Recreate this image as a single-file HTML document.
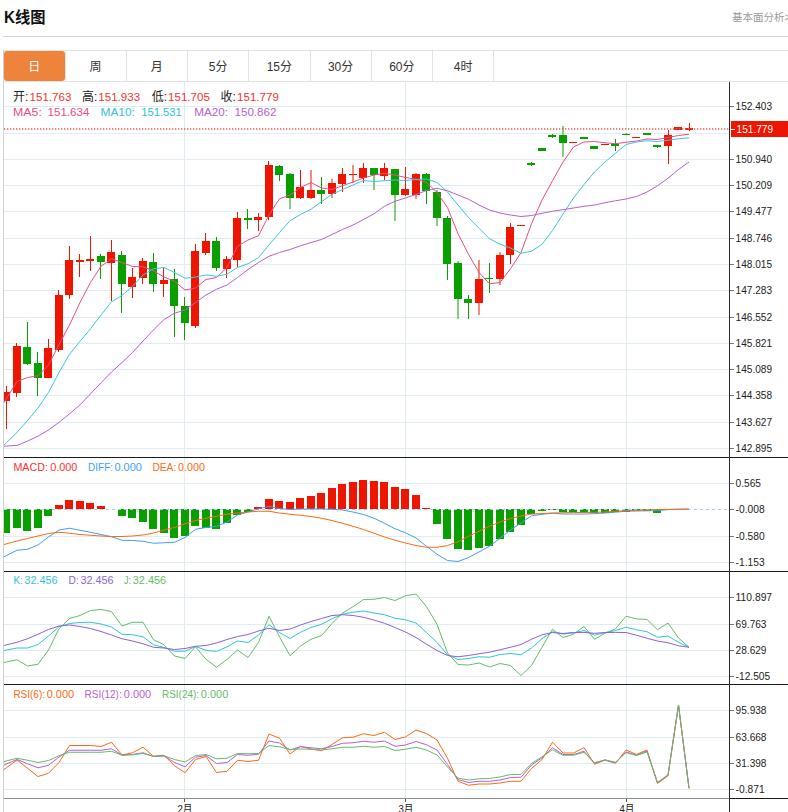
<!DOCTYPE html>
<html lang="zh-CN"><head><meta charset="utf-8"><title>K线图</title>
<style>
html,body{margin:0;padding:0;background:#fff;}
body{width:788px;height:812px;overflow:hidden;position:relative;font-family:"Liberation Sans","Noto Sans CJK SC",sans-serif;}
svg{position:absolute;left:0;top:0;display:block;}
svg text{font-family:"Liberation Sans","Noto Sans CJK SC",sans-serif;}
</style></head><body>
<svg width="788" height="812" viewBox="0 0 788 812">
<rect x="0" y="0" width="788" height="812" fill="#ffffff"/>
<text x="4" y="23" font-size="16" font-weight="bold" fill="#111" textLength="41.5" lengthAdjust="spacingAndGlyphs">K线图</text>
<text x="732" y="21.3" font-size="10.5" fill="#999">基本面分析&gt;</text>
<rect x="3" y="36" width="785" height="1" fill="#d2d2d2"/>
<rect x="3" y="50" width="785" height="1" fill="#e2e2e2"/>
<rect x="3" y="81" width="785" height="1" fill="#e2e2e2"/>
<rect x="4" y="51" width="61" height="30" rx="3" ry="3" fill="#ee843c"/>
<text x="34.38" y="70.5" font-size="12" fill="#fff" text-anchor="middle">日</text>
<rect x="65" y="51" width="1" height="30" fill="#e2e2e2"/>
<text x="95.62" y="70.5" font-size="12" fill="#333" text-anchor="middle">周</text>
<rect x="126" y="51" width="1" height="30" fill="#e2e2e2"/>
<text x="156.88" y="70.5" font-size="12" fill="#333" text-anchor="middle">月</text>
<rect x="187" y="51" width="1" height="30" fill="#e2e2e2"/>
<text x="218.12" y="70.5" font-size="12" fill="#333" text-anchor="middle">5分</text>
<rect x="248" y="51" width="1" height="30" fill="#e2e2e2"/>
<text x="279.38" y="70.5" font-size="12" fill="#333" text-anchor="middle">15分</text>
<rect x="310" y="51" width="1" height="30" fill="#e2e2e2"/>
<text x="340.62" y="70.5" font-size="12" fill="#333" text-anchor="middle">30分</text>
<rect x="371" y="51" width="1" height="30" fill="#e2e2e2"/>
<text x="401.88" y="70.5" font-size="12" fill="#333" text-anchor="middle">60分</text>
<rect x="432" y="51" width="1" height="30" fill="#e2e2e2"/>
<text x="463.12" y="70.5" font-size="12" fill="#333" text-anchor="middle">4时</text>
<rect x="493" y="51" width="1" height="30" fill="#e2e2e2"/>
<rect x="3" y="50" width="1" height="762" fill="#d0d0d0"/>
<rect x="4" y="106" width="725" height="1" fill="#e1ecf2"/>
<rect x="4" y="133" width="725" height="1" fill="#e1ecf2"/>
<rect x="4" y="159" width="725" height="1" fill="#e1ecf2"/>
<rect x="4" y="185" width="725" height="1" fill="#e1ecf2"/>
<rect x="4" y="211" width="725" height="1" fill="#e1ecf2"/>
<rect x="4" y="238" width="725" height="1" fill="#e1ecf2"/>
<rect x="4" y="264" width="725" height="1" fill="#e1ecf2"/>
<rect x="4" y="290" width="725" height="1" fill="#e1ecf2"/>
<rect x="4" y="317" width="725" height="1" fill="#e1ecf2"/>
<rect x="4" y="343" width="725" height="1" fill="#e1ecf2"/>
<rect x="4" y="369" width="725" height="1" fill="#e1ecf2"/>
<rect x="4" y="395" width="725" height="1" fill="#e1ecf2"/>
<rect x="4" y="422" width="725" height="1" fill="#e1ecf2"/>
<rect x="4" y="448" width="725" height="1" fill="#e1ecf2"/>
<rect x="4" y="483" width="725" height="1" fill="#e1ecf2"/>
<rect x="4" y="536" width="725" height="1" fill="#e1ecf2"/>
<rect x="4" y="562" width="725" height="1" fill="#e1ecf2"/>
<rect x="4" y="597" width="725" height="1" fill="#e1ecf2"/>
<rect x="4" y="624" width="725" height="1" fill="#e1ecf2"/>
<rect x="4" y="650" width="725" height="1" fill="#e1ecf2"/>
<rect x="4" y="676" width="725" height="1" fill="#e1ecf2"/>
<rect x="4" y="710" width="725" height="1" fill="#e1ecf2"/>
<rect x="4" y="737" width="725" height="1" fill="#e1ecf2"/>
<rect x="4" y="763" width="725" height="1" fill="#e1ecf2"/>
<rect x="4" y="789" width="725" height="1" fill="#e1ecf2"/>
<rect x="184" y="82" width="1" height="716" fill="#e1ecf2"/>
<rect x="405" y="82" width="1" height="716" fill="#e1ecf2"/>
<rect x="626" y="82" width="1" height="716" fill="#e1ecf2"/>
<g>
<rect x="6" y="386" width="1" height="43" fill="#ee1600"/>
<rect x="4" y="392" width="6" height="9" fill="#ee1600"/>
<rect x="16" y="343" width="1" height="54" fill="#ee1600"/>
<rect x="13" y="346" width="8" height="47" fill="#ee1600"/>
<rect x="27" y="322" width="1" height="43" fill="#0a9f00"/>
<rect x="23" y="347" width="8" height="17" fill="#0a9f00"/>
<rect x="37" y="352" width="1" height="44" fill="#0a9f00"/>
<rect x="34" y="363" width="8" height="15" fill="#0a9f00"/>
<rect x="48" y="339" width="1" height="39" fill="#ee1600"/>
<rect x="44" y="348" width="8" height="30" fill="#ee1600"/>
<rect x="58" y="290" width="1" height="62" fill="#ee1600"/>
<rect x="55" y="295" width="8" height="55" fill="#ee1600"/>
<rect x="69" y="246" width="1" height="53" fill="#ee1600"/>
<rect x="65" y="260" width="8" height="35" fill="#ee1600"/>
<rect x="79" y="254" width="1" height="23" fill="#ee1600"/>
<rect x="76" y="260" width="8" height="2" fill="#ee1600"/>
<rect x="90" y="236" width="1" height="35" fill="#ee1600"/>
<rect x="86" y="259" width="8" height="2" fill="#ee1600"/>
<rect x="100" y="254" width="1" height="25" fill="#0a9f00"/>
<rect x="97" y="256" width="8" height="6" fill="#0a9f00"/>
<rect x="111" y="240" width="1" height="61" fill="#ee1600"/>
<rect x="107" y="252" width="8" height="11" fill="#ee1600"/>
<rect x="121" y="251" width="1" height="62" fill="#0a9f00"/>
<rect x="118" y="255" width="8" height="29" fill="#0a9f00"/>
<rect x="132" y="268" width="1" height="30" fill="#ee1600"/>
<rect x="128" y="277" width="8" height="10" fill="#ee1600"/>
<rect x="142" y="258" width="1" height="26" fill="#ee1600"/>
<rect x="139" y="261" width="8" height="17" fill="#ee1600"/>
<rect x="153" y="253" width="1" height="39" fill="#0a9f00"/>
<rect x="149" y="262" width="8" height="22" fill="#0a9f00"/>
<rect x="163" y="268" width="1" height="29" fill="#ee1600"/>
<rect x="160" y="280" width="8" height="4" fill="#ee1600"/>
<rect x="174" y="269" width="1" height="68" fill="#0a9f00"/>
<rect x="170" y="279" width="8" height="27" fill="#0a9f00"/>
<rect x="184" y="297" width="1" height="43" fill="#0a9f00"/>
<rect x="181" y="306" width="8" height="17" fill="#0a9f00"/>
<rect x="195" y="244" width="1" height="84" fill="#ee1600"/>
<rect x="191" y="251" width="8" height="75" fill="#ee1600"/>
<rect x="205" y="233" width="1" height="22" fill="#ee1600"/>
<rect x="202" y="241" width="8" height="12" fill="#ee1600"/>
<rect x="216" y="237" width="1" height="34" fill="#0a9f00"/>
<rect x="212" y="241" width="8" height="27" fill="#0a9f00"/>
<rect x="226" y="256" width="1" height="22" fill="#ee1600"/>
<rect x="223" y="259" width="8" height="10" fill="#ee1600"/>
<rect x="237" y="212" width="1" height="55" fill="#ee1600"/>
<rect x="233" y="218" width="8" height="42" fill="#ee1600"/>
<rect x="247" y="209" width="1" height="20" fill="#0a9f00"/>
<rect x="244" y="218" width="8" height="2" fill="#0a9f00"/>
<rect x="258" y="213" width="1" height="18" fill="#ee1600"/>
<rect x="254" y="217" width="8" height="3" fill="#ee1600"/>
<rect x="268" y="161" width="1" height="59" fill="#ee1600"/>
<rect x="265" y="165" width="8" height="52" fill="#ee1600"/>
<rect x="279" y="165" width="1" height="16" fill="#0a9f00"/>
<rect x="275" y="166" width="8" height="9" fill="#0a9f00"/>
<rect x="289" y="173" width="2" height="36" fill="#0a9f00" fill-opacity="0.5"/>
<rect x="286" y="174" width="8" height="24" fill="#0a9f00"/>
<rect x="300" y="170" width="1" height="29" fill="#ee1600"/>
<rect x="296" y="187" width="8" height="11" fill="#ee1600"/>
<rect x="310" y="170" width="2" height="29" fill="#ee1600" fill-opacity="0.5"/>
<rect x="307" y="190" width="8" height="8" fill="#ee1600"/>
<rect x="321" y="177" width="1" height="27" fill="#0a9f00"/>
<rect x="317" y="190" width="8" height="4" fill="#0a9f00"/>
<rect x="331" y="179" width="2" height="19" fill="#ee1600" fill-opacity="0.5"/>
<rect x="328" y="183" width="8" height="11" fill="#ee1600"/>
<rect x="342" y="168" width="1" height="24" fill="#ee1600"/>
<rect x="338" y="174" width="8" height="10" fill="#ee1600"/>
<rect x="352" y="165" width="2" height="18" fill="#ee1600" fill-opacity="0.5"/>
<rect x="349" y="174" width="8" height="1" fill="#ee1600"/>
<rect x="363" y="163" width="1" height="20" fill="#ee1600"/>
<rect x="359" y="168" width="8" height="10" fill="#ee1600"/>
<rect x="373" y="168" width="2" height="22" fill="#0a9f00" fill-opacity="0.5"/>
<rect x="370" y="168" width="8" height="7" fill="#0a9f00"/>
<rect x="384" y="163" width="1" height="17" fill="#ee1600"/>
<rect x="380" y="168" width="8" height="8" fill="#ee1600"/>
<rect x="394" y="169" width="2" height="52" fill="#0a9f00" fill-opacity="0.5"/>
<rect x="391" y="169" width="8" height="26" fill="#0a9f00"/>
<rect x="405" y="167" width="1" height="29" fill="#ee1600"/>
<rect x="401" y="189" width="8" height="6" fill="#ee1600"/>
<rect x="415" y="173" width="2" height="26" fill="#ee1600" fill-opacity="0.5"/>
<rect x="412" y="174" width="8" height="21" fill="#ee1600"/>
<rect x="426" y="173" width="1" height="31" fill="#0a9f00"/>
<rect x="422" y="174" width="8" height="17" fill="#0a9f00"/>
<rect x="436" y="190" width="2" height="36" fill="#0a9f00" fill-opacity="0.5"/>
<rect x="433" y="192" width="8" height="26" fill="#0a9f00"/>
<rect x="447" y="216" width="1" height="64" fill="#0a9f00"/>
<rect x="443" y="218" width="8" height="46" fill="#0a9f00"/>
<rect x="457" y="261" width="2" height="58" fill="#0a9f00" fill-opacity="0.5"/>
<rect x="454" y="263" width="8" height="36" fill="#0a9f00"/>
<rect x="468" y="295" width="1" height="24" fill="#0a9f00"/>
<rect x="464" y="299" width="8" height="4" fill="#0a9f00"/>
<rect x="478" y="260" width="2" height="55" fill="#ee1600" fill-opacity="0.5"/>
<rect x="475" y="279" width="8" height="24" fill="#ee1600"/>
<rect x="489" y="263" width="1" height="30" fill="#0a9f00"/>
<rect x="485" y="278" width="8" height="1" fill="#0a9f00"/>
<rect x="499" y="252" width="2" height="33" fill="#ee1600" fill-opacity="0.5"/>
<rect x="496" y="255" width="8" height="24" fill="#ee1600"/>
<rect x="510" y="223" width="1" height="41" fill="#ee1600"/>
<rect x="506" y="227" width="8" height="28" fill="#ee1600"/>
<rect x="517" y="225" width="8" height="1" fill="#ee1600"/>
<rect x="531" y="162" width="1" height="4" fill="#0a9f00"/>
<rect x="527" y="163" width="8" height="2" fill="#0a9f00"/>
<rect x="538" y="148" width="8" height="3" fill="#0a9f00"/>
<rect x="552" y="134" width="1" height="4" fill="#0a9f00"/>
<rect x="548" y="135" width="8" height="2" fill="#0a9f00"/>
<rect x="562" y="126" width="2" height="31" fill="#0a9f00" fill-opacity="0.5"/>
<rect x="559" y="135" width="8" height="8" fill="#0a9f00"/>
<rect x="569" y="142" width="8" height="1" fill="#ee1600"/>
<rect x="580" y="137" width="8" height="2" fill="#0a9f00"/>
<rect x="590" y="146" width="8" height="3" fill="#0a9f00"/>
<rect x="601" y="144" width="8" height="1" fill="#ee1600"/>
<rect x="615" y="139" width="1" height="12" fill="#0a9f00"/>
<rect x="611" y="144" width="8" height="2" fill="#0a9f00"/>
<rect x="625" y="133" width="2" height="2" fill="#0a9f00" fill-opacity="0.5"/>
<rect x="622" y="134" width="8" height="1" fill="#0a9f00"/>
<rect x="632" y="137" width="8" height="1" fill="#ee1600"/>
<rect x="643" y="133" width="8" height="2" fill="#0a9f00"/>
<rect x="657" y="145" width="1" height="3" fill="#0a9f00"/>
<rect x="653" y="145" width="8" height="2" fill="#0a9f00"/>
<rect x="668" y="130" width="1" height="34" fill="#ee1600"/>
<rect x="664" y="135" width="8" height="11" fill="#ee1600"/>
<rect x="674" y="127" width="8" height="3" fill="#ee1600"/>
<rect x="689" y="123" width="1" height="8" fill="#ee1600"/>
<rect x="685" y="128" width="8" height="2" fill="#ee1600"/>
<polyline fill="none" stroke="#ea4c86" stroke-width="1" stroke-linejoin="round" points="4,402.55 6.5,398.5 17,381.5 27.5,377.5 38,375.75 48.5,365 59,344.5 69.5,325 80,302.5 90.5,282.5 101,266.25 111.5,258.75 122,262.5 132.5,266.5 143,266.75 153.5,270.75 164,277 174.5,281.25 185,290 195.5,288 206,279.5 216.5,277.5 227,267.5 237.5,246.25 248,240 258.5,235.75 269,215 279.5,198.75 290,195 300.5,187.5 311,182.5 321.5,188 332,189.5 342.5,185.75 353,182 363.5,178 374,175 384.5,173.25 395,175 405.5,177.5 416,179.25 426.5,182.5 437,192.5 447.5,207.5 458,233.75 468.5,254.25 479,272.5 489.5,283.75 500,282.5 510.5,268.75 521,252.5 531.5,223.75 542,200 552.5,180.75 563,162 573.5,147 584,142 594.5,141.5 605,142.75 615.5,143.75 626,142.25 636.5,141 647,139 657.5,139.5 668,137.5 678.5,135.5 689,134.2"/>
<polyline fill="none" stroke="#3cc6de" stroke-width="1" stroke-linejoin="round" points="4,445 6.5,442.6 17,432.5 27.5,420.5 38,408 48.5,392.5 59,372.5 69.5,354.25 80,341.25 90.5,328.75 101,315 111.5,301.75 122,295.5 132.5,286.25 143,275 153.5,268.75 164,267.5 174.5,272.5 185,278.25 195.5,277 206,275 216.5,276.25 227,274.25 237.5,267.5 248,263.75 258.5,257.5 269,245 279.5,232.5 290,220.75 300.5,214.5 311,209.25 321.5,201.75 332,194.25 342.5,189.5 353,185 363.5,180.5 374,181.5 384.5,180.75 395,180 405.5,180.5 416,179.5 426.5,179 437,182.5 447.5,192 458,205 468.5,217.5 479,228.25 489.5,238.75 500,244.25 510.5,248 521,253.25 531.5,251.25 542,244.25 552.5,230.5 563,214 573.5,198 584,184.5 594.5,172 605,162 615.5,153.25 626,144.5 636.5,142 647,140.75 657.5,141.5 668,140.25 678.5,138.75 689,137.8"/>
<polyline fill="none" stroke="#b65fd0" stroke-width="1" stroke-linejoin="round" points="4,446.2 6.5,446.05 17,445.4 27.5,441.1 38,436.2 48.5,430 59,422.3 69.5,413.8 80,404.9 90.5,393.8 101,382.8 111.5,372 122,362.5 132.5,352.5 143,341 153.5,330 164,319.5 174.5,313.25 185,310 195.5,302.5 206,295 216.5,289.25 227,285 237.5,277.5 248,269.5 258.5,262.5 269,256.25 279.5,252.5 290,249.5 300.5,245.75 311,242.5 321.5,239.5 332,234.5 342.5,229.5 353,225 363.5,219.5 374,213.75 384.5,206.25 395,201.25 405.5,198 416,194.5 426.5,190.5 437,188.25 447.5,190.75 458,195 468.5,199.25 479,205 489.5,210 500,213 510.5,215 521,216.5 531.5,215.5 542,213.25 552.5,211.25 563,209.7 573.5,208 584,206.25 594.5,205 605,202.75 615.5,200.75 626,199 636.5,196.5 647,192 657.5,185.75 668,178.25 678.5,169.5 689,162"/>
</g>
<line x1="4" y1="128.9" x2="729" y2="128.9" stroke="#f4554a" stroke-width="1.5" stroke-dasharray="1.3,1.7"/>
<rect x="731" y="121" width="57" height="16" fill="#ee1600"/>
<g>
<rect x="4" y="509" width="6" height="24" fill="#0a9f00"/>
<rect x="13" y="509" width="8" height="19" fill="#0a9f00"/>
<rect x="23" y="509" width="8" height="22" fill="#0a9f00"/>
<rect x="34" y="509" width="8" height="19" fill="#0a9f00"/>
<rect x="44" y="509" width="8" height="7" fill="#0a9f00"/>
<rect x="55" y="505" width="8" height="4" fill="#ee1600"/>
<rect x="65" y="500" width="8" height="9" fill="#ee1600"/>
<rect x="76" y="501" width="8" height="8" fill="#ee1600"/>
<rect x="86" y="503" width="8" height="6" fill="#ee1600"/>
<rect x="97" y="506" width="8" height="3" fill="#ee1600"/>
<rect x="118" y="509" width="8" height="7" fill="#0a9f00"/>
<rect x="128" y="509" width="8" height="9" fill="#0a9f00"/>
<rect x="139" y="509" width="8" height="13" fill="#0a9f00"/>
<rect x="149" y="509" width="8" height="20" fill="#0a9f00"/>
<rect x="160" y="509" width="8" height="24" fill="#0a9f00"/>
<rect x="170" y="509" width="8" height="29" fill="#0a9f00"/>
<rect x="181" y="509" width="8" height="27" fill="#0a9f00"/>
<rect x="191" y="509" width="8" height="17" fill="#0a9f00"/>
<rect x="202" y="509" width="8" height="19" fill="#0a9f00"/>
<rect x="212" y="509" width="8" height="20" fill="#0a9f00"/>
<rect x="223" y="509" width="8" height="14" fill="#0a9f00"/>
<rect x="233" y="509" width="8" height="6" fill="#0a9f00"/>
<rect x="244" y="509" width="8" height="3" fill="#0a9f00"/>
<rect x="254" y="507" width="8" height="2" fill="#ee1600"/>
<rect x="265" y="499" width="8" height="10" fill="#ee1600"/>
<rect x="275" y="501" width="8" height="8" fill="#ee1600"/>
<rect x="286" y="502" width="8" height="7" fill="#ee1600"/>
<rect x="296" y="498" width="8" height="11" fill="#ee1600"/>
<rect x="307" y="496" width="8" height="13" fill="#ee1600"/>
<rect x="317" y="493" width="8" height="16" fill="#ee1600"/>
<rect x="328" y="488" width="8" height="21" fill="#ee1600"/>
<rect x="338" y="484" width="8" height="25" fill="#ee1600"/>
<rect x="349" y="482" width="8" height="27" fill="#ee1600"/>
<rect x="359" y="480" width="8" height="29" fill="#ee1600"/>
<rect x="370" y="481" width="8" height="28" fill="#ee1600"/>
<rect x="380" y="482" width="8" height="27" fill="#ee1600"/>
<rect x="391" y="487" width="8" height="22" fill="#ee1600"/>
<rect x="401" y="489" width="8" height="20" fill="#ee1600"/>
<rect x="412" y="495" width="8" height="14" fill="#ee1600"/>
<rect x="422" y="508" width="8" height="1" fill="#ee1600"/>
<rect x="433" y="509" width="8" height="15" fill="#0a9f00"/>
<rect x="443" y="509" width="8" height="30" fill="#0a9f00"/>
<rect x="454" y="509" width="8" height="40" fill="#0a9f00"/>
<rect x="464" y="509" width="8" height="41" fill="#0a9f00"/>
<rect x="475" y="509" width="8" height="39" fill="#0a9f00"/>
<rect x="485" y="509" width="8" height="37" fill="#0a9f00"/>
<rect x="496" y="509" width="8" height="30" fill="#0a9f00"/>
<rect x="506" y="509" width="8" height="23" fill="#0a9f00"/>
<rect x="517" y="509" width="8" height="16" fill="#0a9f00"/>
<rect x="527" y="509" width="8" height="5" fill="#0a9f00"/>
<rect x="538" y="509" width="8" height="2" fill="#0a9f00"/>
<rect x="548" y="509" width="8" height="1" fill="#0a9f00"/>
<rect x="559" y="509" width="8" height="3" fill="#0a9f00"/>
<rect x="569" y="509" width="8" height="3" fill="#0a9f00"/>
<rect x="580" y="509" width="8" height="3" fill="#0a9f00"/>
<rect x="590" y="509" width="8" height="4" fill="#0a9f00"/>
<rect x="601" y="509" width="8" height="4" fill="#0a9f00"/>
<rect x="611" y="509" width="8" height="3" fill="#0a9f00"/>
<rect x="622" y="509" width="8" height="3" fill="#0a9f00"/>
<rect x="632" y="509" width="8" height="2" fill="#0a9f00"/>
<rect x="643" y="509" width="8" height="2" fill="#0a9f00"/>
<rect x="653" y="509" width="8" height="4" fill="#0a9f00"/>
<line x1="4" y1="509.5" x2="729" y2="509.5" stroke="#9fd4ec" stroke-width="1" stroke-dasharray="3,3"/>
<polyline fill="none" stroke="#3d9ff0" stroke-width="1" stroke-linejoin="round" points="4,556.75 6.5,555.5 17,550.25 27.5,549.25 38,545 48.5,537 59,530 69.5,528.25 80,530.25 90.5,532.25 101,534.5 111.5,536.75 122,540.25 132.5,540.5 143,541.25 153.5,543.25 164,542.75 174.5,542.25 185,537.5 195.5,529.25 206,527.5 216.5,526.25 227,522 237.5,515 248,512 258.5,508.75 269,506.5 279.5,508.5 290,509.5 300.5,509 311,509 321.5,509 332,509.25 342.5,510 353,512 363.5,514.5 374,518.25 384.5,523.25 395,528.75 405.5,532.75 416,538 426.5,546.25 437,554.25 447.5,560.5 458,561.5 468.5,557.5 479,552 489.5,546.25 500,538.25 510.5,530 521,523 531.5,515.75 542,514.25 552.5,513.25 563,514 573.5,514 584,514 594.5,513.6 605,513 615.5,512.2 626,511.2 636.5,511 647,510.8 657.5,510.6 668,509.6 678.5,509.3 689,509.2"/>
<polyline fill="none" stroke="#fa6a14" stroke-width="1" stroke-linejoin="round" points="4,544.5 6.5,543.83 17,541 27.5,538.5 38,536 48.5,533.5 59,532.25 69.5,533.25 80,534.5 90.5,535.25 101,536 111.5,536.5 122,536.5 132.5,536 143,535 153.5,533 164,530 174.5,527.5 185,523.75 195.5,520.5 206,518.25 216.5,516.25 227,514.25 237.5,513 248,512 258.5,511.25 269,511.25 279.5,513 290,514.25 300.5,515.25 311,516.5 321.5,518.25 332,520.5 342.5,523.25 353,526.25 363.5,529.5 374,533.25 384.5,537 395,540.25 405.5,543 416,545.5 426.5,547.25 437,547.25 447.5,545.5 458,541.75 468.5,536.25 479,531.25 489.5,526.25 500,522 510.5,518.5 521,516 531.5,514 542,513.5 552.5,513 563,512.75 573.5,512.5 584,512.5 594.5,512.3 605,512 615.5,511.3 626,510.6 636.5,510.3 647,510 657.5,509.6 668,509.4 678.5,509.2 689,509.1"/>
</g>
<g>
<polyline fill="none" stroke="#66bb66" stroke-width="1" stroke-linejoin="round" points="4,662.5 6.5,661.97 17,659.75 27.5,666 38,664.25 48.5,650 59,628.75 69.5,618.5 80,615.5 90.5,610.5 101,609.5 111.5,611.5 122,626 132.5,622.25 143,622.25 153.5,639.75 164,644.75 174.5,656 185,658.5 195.5,646.75 206,659.25 216.5,667.25 227,659.5 237.5,650 248,657.5 258.5,642.5 269,616.25 279.5,636.75 290,655.75 300.5,646 311,639.25 321.5,635.5 332,623.5 342.5,613 353,606.75 363.5,599.5 374,599.25 384.5,597.5 395,600.5 405.5,595.75 416,594 426.5,606.75 437,624.25 447.5,653 458,664.5 468.5,665 479,663 489.5,667 500,663.5 510.5,665.5 521,675.5 531.5,665.5 542,647.25 552.5,629.25 563,637.5 573.5,634.25 584,626.4 594.5,639.3 605,633.2 615.5,628.9 626,616.2 636.5,618.9 647,619.5 657.5,629.75 668,623 678.5,638 689,647.25"/>
<polyline fill="none" stroke="#2fc3dc" stroke-width="1" stroke-linejoin="round" points="4,650.5 6.5,650.02 17,648 27.5,648 38,644.5 48.5,636 59,626.75 69.5,623.5 80,622.5 90.5,622.25 101,624 111.5,627 122,634.25 132.5,634.75 143,636.75 153.5,644.75 164,647.5 174.5,651.25 185,651.25 195.5,646.5 206,650.25 216.5,651.5 227,646.75 237.5,641 248,642.5 258.5,635 269,624.75 279.5,632.5 290,638.5 300.5,632.25 311,627.5 321.5,624.25 332,618.75 342.5,614.25 353,612.25 363.5,611 374,613 384.5,614.75 395,618.25 405.5,619.75 416,623 426.5,632.5 437,642.5 447.5,654.75 458,659.5 468.5,658.5 479,656.75 489.5,657.25 500,654.5 510.5,653.5 521,654.75 531.5,648 542,638.75 552.5,631.75 563,634 573.5,633 584,630.5 594.5,635.2 605,632.6 615.5,630.6 626,627.25 636.5,629.8 647,631.75 657.5,637.25 668,636 678.5,642.25 689,647.25"/>
<polyline fill="none" stroke="#8f5fd6" stroke-width="1" stroke-linejoin="round" points="4,645.5 6.5,644.88 17,642.25 27.5,638.75 38,634.25 48.5,629.5 59,626 69.5,625 80,626.5 90.5,628.5 101,631.5 111.5,635 122,638.75 132.5,641 143,643.75 153.5,647.25 164,648 174.5,649.5 185,648.5 195.5,646.25 206,645.5 216.5,643 227,639.5 237.5,636.5 248,634.5 258.5,631 269,628.25 279.5,630.5 290,629 300.5,625 311,621.5 321.5,618.5 332,615.5 342.5,614.75 353,615.5 363.5,617.25 374,620 384.5,623.25 395,627.5 405.5,632 416,637.5 426.5,644.25 437,650.5 447.5,655.5 458,656.75 468.5,655.5 479,653.75 489.5,652.25 500,649.75 510.5,647.25 521,644.5 531.5,639.25 542,634.75 552.5,632.5 563,633.5 573.5,632.5 584,632.4 594.5,633.3 605,632.5 615.5,632.4 626,632.5 636.5,635.2 647,638.25 657.5,641 668,642.75 678.5,645.75 689,647.25"/>
</g>
<g>
<polyline fill="none" stroke="#fa6a14" stroke-width="1" stroke-linejoin="round" points="4,769.5 6.5,767.67 17,760 27.5,768.25 38,776.5 48.5,773.25 59,762.5 69.5,745.5 80,745.5 90.5,745.5 101,746.5 111.5,742.25 122,755 132.5,752.75 143,747.25 153.5,756.25 164,755.25 174.5,765.75 185,772.75 195.5,759.5 206,756.5 216.5,772.5 227,771.25 237.5,760.25 248,761.5 258.5,760.25 269,734 279.5,738.25 290,754 300.5,746.25 311,749 321.5,750.75 332,744.5 342.5,737.75 353,737.25 363.5,733.75 374,735.5 384.5,732.25 395,739.5 405.5,737 416,730 426.5,733.5 437,740 447.5,758.25 458,781.25 468.5,785.25 479,784 489.5,784 500,783 510.5,781.25 521,781.25 531.5,768.5 542,759.5 552.5,742.25 563,753 573.5,753 584,747.6 594.5,764.2 605,760.1 615.5,763.3 626,750 636.5,754.4 647,750 657.5,783.5 668,775.75 678.5,705 689,788.25"/>
<polyline fill="none" stroke="#b65fd0" stroke-width="1" stroke-linejoin="round" points="4,765 6.5,763.94 17,759.5 27.5,763.75 38,767.75 48.5,765.25 59,757 69.5,750.25 80,750.25 90.5,750.25 101,750.25 111.5,748.75 122,755 132.5,754.5 143,752.75 153.5,756.5 164,756 174.5,762.5 185,766.75 195.5,757.25 206,755.5 216.5,763.5 227,762.5 237.5,754.5 248,755.25 258.5,754.25 269,741 279.5,743 290,750 300.5,746.75 311,747.75 321.5,748.75 332,746.5 342.5,743.25 353,742.75 363.5,741.25 374,742.25 384.5,741.1 395,746.25 405.5,745 416,741.5 426.5,744.75 437,750 447.5,764.5 458,779.5 468.5,782.5 479,781.25 489.5,781.25 500,780 510.5,777.5 521,777.25 531.5,765 542,757.75 552.5,747.75 563,754.5 573.5,754.5 584,751.3 594.5,763.3 605,760 615.5,762.8 626,751.9 636.5,755.2 647,751 657.5,783 668,775.2 678.5,705 689,788.25"/>
<polyline fill="none" stroke="#66bb66" stroke-width="1" stroke-linejoin="round" points="4,761.5 6.5,760.88 17,758.25 27.5,760.25 38,762.5 48.5,760.5 59,755.75 69.5,752.25 80,752.25 90.5,752.25 101,752.25 111.5,751.25 122,755.25 132.5,754.75 143,753.5 153.5,756.25 164,755.75 174.5,759.5 185,762 195.5,755.6 206,754.5 216.5,758.75 227,758.25 237.5,753.5 248,753.75 258.5,753.5 269,745.5 279.5,746.75 290,749.5 300.5,749 311,749.25 321.5,750 332,748.75 342.5,747.25 353,747.25 363.5,746.25 374,747.25 384.5,746.4 395,750.5 405.5,749.25 416,747.25 426.5,750 437,755 447.5,767 458,778 468.5,780 479,778.75 489.5,778.5 500,777 510.5,774.5 521,774.5 531.5,763.5 542,756.75 552.5,749.75 563,755.25 573.5,755.25 584,752.3 594.5,762.7 605,759.9 615.5,762.2 626,752.7 636.5,755.5 647,752 657.5,782.5 668,774.75 678.5,705 689,788.25"/>
</g>
<rect x="4" y="457" width="784" height="1" fill="#1a1a1a"/>
<rect x="4" y="571" width="784" height="1" fill="#1a1a1a"/>
<rect x="4" y="684" width="784" height="1" fill="#1a1a1a"/>
<rect x="4" y="798" width="725" height="1" fill="#8c8c8c"/>
<rect x="729" y="798" width="59" height="1" fill="#1a1a1a"/>
<rect x="729" y="82" width="1" height="730" fill="#2a2a2a"/>
<rect x="730" y="106" width="4" height="1" fill="#777"/>
<text x="735.6" y="110.4" font-size="11" fill="#222" textLength="36.52" lengthAdjust="spacingAndGlyphs">152.403</text>
<rect x="730" y="159" width="4" height="1" fill="#777"/>
<text x="735.6" y="163.4" font-size="11" fill="#222" textLength="36.52" lengthAdjust="spacingAndGlyphs">150.940</text>
<rect x="730" y="185" width="4" height="1" fill="#777"/>
<text x="735.6" y="189.4" font-size="11" fill="#222" textLength="36.52" lengthAdjust="spacingAndGlyphs">150.209</text>
<rect x="730" y="211" width="4" height="1" fill="#777"/>
<text x="735.6" y="215.4" font-size="11" fill="#222" textLength="36.52" lengthAdjust="spacingAndGlyphs">149.477</text>
<rect x="730" y="238" width="4" height="1" fill="#777"/>
<text x="735.6" y="242.4" font-size="11" fill="#222" textLength="36.52" lengthAdjust="spacingAndGlyphs">148.746</text>
<rect x="730" y="264" width="4" height="1" fill="#777"/>
<text x="735.6" y="268.4" font-size="11" fill="#222" textLength="36.52" lengthAdjust="spacingAndGlyphs">148.015</text>
<rect x="730" y="290" width="4" height="1" fill="#777"/>
<text x="735.6" y="294.4" font-size="11" fill="#222" textLength="36.52" lengthAdjust="spacingAndGlyphs">147.283</text>
<rect x="730" y="317" width="4" height="1" fill="#777"/>
<text x="735.6" y="321.4" font-size="11" fill="#222" textLength="36.52" lengthAdjust="spacingAndGlyphs">146.552</text>
<rect x="730" y="343" width="4" height="1" fill="#777"/>
<text x="735.6" y="347.4" font-size="11" fill="#222" textLength="36.52" lengthAdjust="spacingAndGlyphs">145.821</text>
<rect x="730" y="369" width="4" height="1" fill="#777"/>
<text x="735.6" y="373.4" font-size="11" fill="#222" textLength="36.52" lengthAdjust="spacingAndGlyphs">145.089</text>
<rect x="730" y="395" width="4" height="1" fill="#777"/>
<text x="735.6" y="399.4" font-size="11" fill="#222" textLength="36.52" lengthAdjust="spacingAndGlyphs">144.358</text>
<rect x="730" y="422" width="4" height="1" fill="#777"/>
<text x="735.6" y="426.4" font-size="11" fill="#222" textLength="36.52" lengthAdjust="spacingAndGlyphs">143.627</text>
<rect x="730" y="448" width="4" height="1" fill="#777"/>
<text x="735.6" y="452.4" font-size="11" fill="#222" textLength="36.52" lengthAdjust="spacingAndGlyphs">142.895</text>
<rect x="731" y="129" width="4" height="1" fill="#fff"/>
<text x="736.6" y="133" font-size="11" fill="#fff" textLength="36.52" lengthAdjust="spacingAndGlyphs">151.779</text>
<rect x="730" y="483" width="4" height="1" fill="#777"/>
<text x="735.6" y="487.4" font-size="11" fill="#222" textLength="25.28" lengthAdjust="spacingAndGlyphs">0.565</text>
<rect x="730" y="509" width="4" height="1" fill="#777"/>
<text x="735.6" y="513.4" font-size="11" fill="#222" textLength="28.98" lengthAdjust="spacingAndGlyphs">-0.008</text>
<rect x="730" y="536" width="4" height="1" fill="#777"/>
<text x="735.6" y="540.4" font-size="11" fill="#222" textLength="28.98" lengthAdjust="spacingAndGlyphs">-0.580</text>
<rect x="730" y="562" width="4" height="1" fill="#777"/>
<text x="735.6" y="566.4" font-size="11" fill="#222" textLength="28.98" lengthAdjust="spacingAndGlyphs">-1.153</text>
<rect x="730" y="597" width="4" height="1" fill="#777"/>
<text x="735.6" y="601.4" font-size="11" fill="#222" textLength="36.52" lengthAdjust="spacingAndGlyphs">110.897</text>
<rect x="730" y="624" width="4" height="1" fill="#777"/>
<text x="735.6" y="628.4" font-size="11" fill="#222" textLength="30.9" lengthAdjust="spacingAndGlyphs">69.763</text>
<rect x="730" y="650" width="4" height="1" fill="#777"/>
<text x="735.6" y="654.4" font-size="11" fill="#222" textLength="30.9" lengthAdjust="spacingAndGlyphs">28.629</text>
<rect x="730" y="676" width="4" height="1" fill="#777"/>
<text x="735.6" y="680.4" font-size="11" fill="#222" textLength="34.6" lengthAdjust="spacingAndGlyphs">-12.505</text>
<rect x="730" y="710" width="4" height="1" fill="#777"/>
<text x="735.6" y="714.4" font-size="11" fill="#222" textLength="30.9" lengthAdjust="spacingAndGlyphs">95.938</text>
<rect x="730" y="737" width="4" height="1" fill="#777"/>
<text x="735.6" y="741.4" font-size="11" fill="#222" textLength="30.9" lengthAdjust="spacingAndGlyphs">63.668</text>
<rect x="730" y="763" width="4" height="1" fill="#777"/>
<text x="735.6" y="767.4" font-size="11" fill="#222" textLength="30.9" lengthAdjust="spacingAndGlyphs">31.398</text>
<rect x="730" y="789" width="4" height="1" fill="#777"/>
<text x="735.6" y="793.4" font-size="11" fill="#222" textLength="28.98" lengthAdjust="spacingAndGlyphs">-0.871</text>
<rect x="184" y="799" width="1" height="3" fill="#555"/>
<text x="185" y="812.6" font-size="11" fill="#222" text-anchor="middle" textLength="15" lengthAdjust="spacingAndGlyphs">2月</text>
<rect x="405" y="799" width="1" height="3" fill="#555"/>
<text x="406" y="812.6" font-size="11" fill="#222" text-anchor="middle" textLength="15" lengthAdjust="spacingAndGlyphs">3月</text>
<rect x="626" y="799" width="1" height="3" fill="#555"/>
<text x="627" y="812.6" font-size="11" fill="#222" text-anchor="middle" textLength="15" lengthAdjust="spacingAndGlyphs">4月</text>
<g font-size="12">
<text x="13" y="101" font-size="12" fill="#222">开:</text>
<text x="82" y="101" font-size="12" fill="#222">高:</text>
<text x="151.75" y="101" font-size="12" fill="#222">低:</text>
<text x="220.5" y="101" font-size="12" fill="#222">收:</text>
</g>
<text y="101" font-size="11.5"><tspan x="29.5" fill="#f5322d" textLength="41.85" lengthAdjust="spacingAndGlyphs">151.763</tspan><tspan x="98.25" fill="#f5322d" textLength="41.85" lengthAdjust="spacingAndGlyphs">151.933</tspan><tspan x="168" fill="#f5322d" textLength="41.85" lengthAdjust="spacingAndGlyphs">151.705</tspan><tspan x="237" fill="#f5322d" textLength="41.85" lengthAdjust="spacingAndGlyphs">151.779</tspan></text>
<text y="115.5" font-size="11.5"><tspan x="13" fill="#ea4c86" textLength="28.85" lengthAdjust="spacingAndGlyphs">MA5:</tspan><tspan x="47.5" fill="#ea4c86" textLength="41.85" lengthAdjust="spacingAndGlyphs">151.634</tspan><tspan x="100.5" fill="#2fc3dc" textLength="34.35" lengthAdjust="spacingAndGlyphs">MA10:</tspan><tspan x="141.25" fill="#2fc3dc" textLength="40.6" lengthAdjust="spacingAndGlyphs">151.531</tspan><tspan x="194.25" fill="#b65fd0" textLength="33.85" lengthAdjust="spacingAndGlyphs">MA20:</tspan><tspan x="234.5" fill="#b65fd0" textLength="41.85" lengthAdjust="spacingAndGlyphs">150.862</tspan></text>
<text y="471.2" font-size="11.5"><tspan x="13.4" fill="#f5322d" textLength="34.5" lengthAdjust="spacingAndGlyphs">MACD:</tspan><tspan x="50.2" fill="#f5322d" textLength="27.2" lengthAdjust="spacingAndGlyphs">0.000</tspan><tspan x="88.1" fill="#3d9ff0" textLength="24.9" lengthAdjust="spacingAndGlyphs">DIFF:</tspan><tspan x="114.4" fill="#3d9ff0" textLength="27.5" lengthAdjust="spacingAndGlyphs">0.000</tspan><tspan x="152.4" fill="#fa6a14" textLength="23.9" lengthAdjust="spacingAndGlyphs">DEA:</tspan><tspan x="178" fill="#fa6a14" textLength="26.9" lengthAdjust="spacingAndGlyphs">0.000</tspan></text>
<text y="584.2" font-size="11.5"><tspan x="13.4" fill="#2fc3dc" textLength="9.4" lengthAdjust="spacingAndGlyphs">K:</tspan><tspan x="24.5" fill="#2fc3dc" textLength="33" lengthAdjust="spacingAndGlyphs">32.456</tspan><tspan x="68.6" fill="#8f5fd6" textLength="10.2" lengthAdjust="spacingAndGlyphs">D:</tspan><tspan x="80.6" fill="#8f5fd6" textLength="33" lengthAdjust="spacingAndGlyphs">32.456</tspan><tspan x="124" fill="#66bb66" textLength="7.1" lengthAdjust="spacingAndGlyphs">J:</tspan><tspan x="132.8" fill="#66bb66" textLength="33.3" lengthAdjust="spacingAndGlyphs">32.456</tspan></text>
<text y="698.2" font-size="11.5"><tspan x="13.4" fill="#fa6a14" textLength="31.6" lengthAdjust="spacingAndGlyphs">RSI(6):</tspan><tspan x="46.7" fill="#fa6a14" textLength="27.5" lengthAdjust="spacingAndGlyphs">0.000</tspan><tspan x="84.6" fill="#b65fd0" textLength="37.1" lengthAdjust="spacingAndGlyphs">RSI(12):</tspan><tspan x="123.8" fill="#b65fd0" textLength="27.4" lengthAdjust="spacingAndGlyphs">0.000</tspan><tspan x="162" fill="#66bb66" textLength="37.1" lengthAdjust="spacingAndGlyphs">RSI(24):</tspan><tspan x="200.8" fill="#66bb66" textLength="27.5" lengthAdjust="spacingAndGlyphs">0.000</tspan></text>
</svg>
</body></html>
